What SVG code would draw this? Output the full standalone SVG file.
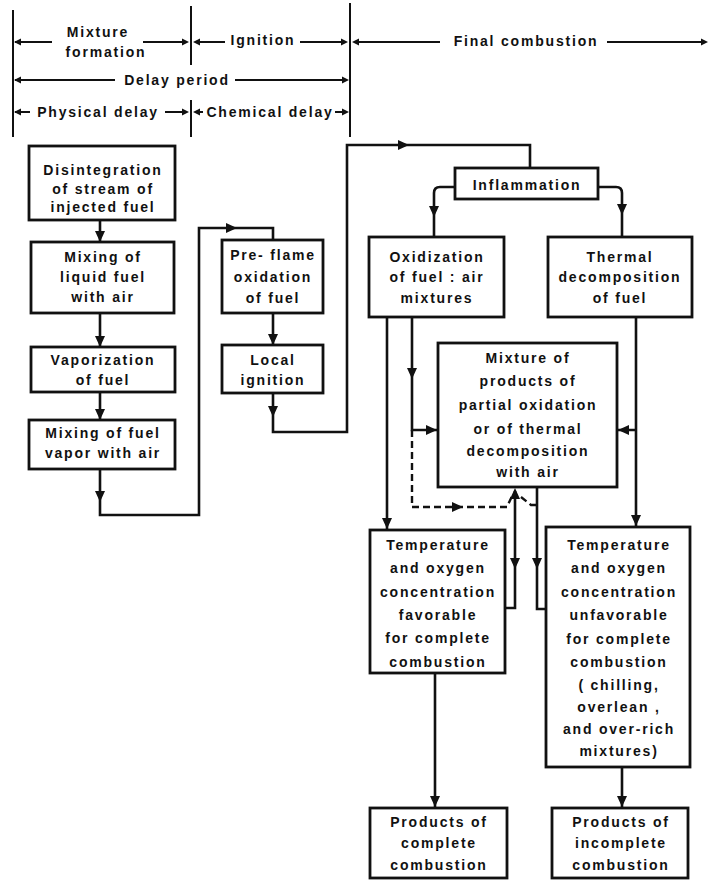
<svg xmlns="http://www.w3.org/2000/svg" xmlns:xlink="http://www.w3.org/1999/xlink" width="714" height="880" viewBox="0 0 714 880">
<style>
  .bx{fill:#fff;stroke:#111;stroke-width:2.8}
  .t{font-family:"Liberation Sans",Arial,sans-serif;font-weight:bold;font-size:14px;letter-spacing:1.8px;fill:#111;text-anchor:middle}
  .ln{fill:none;stroke:#111;stroke-width:2.6}
  .hl{fill:none;stroke:#111;stroke-width:2}
  .ds{fill:none;stroke:#111;stroke-width:2.4;stroke-dasharray:7 4}
  .ah{fill:#111}
</style>
<defs>
  <path id="ah" d="M0,0 L-11,-5 L-11,5 Z"/>
  <path id="hs" d="M0,0 L-7,-3.5 L-7,3.5 Z"/>
</defs>
<rect width="714" height="880" fill="#fff"/>

<g id="header">
  <path class="hl" d="M13 10 V137 M191 6 V65 M191 100 V137 M350 3 V137"/>
  <path class="hl" d="M15 42 H52 M143 42 H187 M195 42 H225 M300 42 H346 M354 42 H440 M607 42 H706"/>
  <path class="hl" d="M15 80 H115 M235 80 H347"/>
  <path class="hl" d="M15 112 H30 M165 112 H187 M195 112 H203 M335 112 H347"/>
  <g class="ah">
    <use xlink:href="#hs" transform="translate(14,42) rotate(180)"/>
    <use xlink:href="#hs" transform="translate(189,42)"/>
    <use xlink:href="#hs" transform="translate(193,42) rotate(180)"/>
    <use xlink:href="#hs" transform="translate(348,42)"/>
    <use xlink:href="#hs" transform="translate(352,42) rotate(180)"/>
    <use xlink:href="#hs" transform="translate(708,42)"/>
    <use xlink:href="#hs" transform="translate(14,80) rotate(180)"/>
    <use xlink:href="#hs" transform="translate(349,80)"/>
    <use xlink:href="#hs" transform="translate(14,112) rotate(180)"/>
    <use xlink:href="#hs" transform="translate(189,112)"/>
    <use xlink:href="#hs" transform="translate(193,112) rotate(180)"/>
    <use xlink:href="#hs" transform="translate(349,112)"/>
  </g>
  <text class="t" x="98" y="37">Mixture</text>
  <text class="t" x="106" y="57">formation</text>
  <text class="t" x="263" y="45">Ignition</text>
  <text class="t" x="526" y="46">Final combustion</text>
  <text class="t" x="177" y="85">Delay period</text>
  <text class="t" x="98" y="117">Physical delay</text>
  <text class="t" x="270" y="117">Chemical delay</text>
</g>

<g id="connectors">
  <path class="ln" d="M100 220 V242 M100 313 V347 M100 392 V420"/>
  <path class="ln" d="M100 469 V515 H199 V228 H273 V240"/>
  <path class="ln" d="M273 313 V345"/>
  <path class="ln" d="M273 393 V432 H347 V145 H530 V168"/>
  <path class="ln" d="M455 187 H440 Q434 187 434 193 V237 M598 187 H616 Q622 187 622 193 V237"/>
  <path class="ln" d="M387 317 V529"/>
  <path class="ln" d="M412 317 V430 H437"/>
  <path class="ln" d="M636 317 V526 M636 430 H618"/>
  <path class="ds" d="M412 430 V507 H507 L513 494"/>
  <path class="ds" d="M521 497 L531 505 H537"/>
  <path class="ln" d="M515 491 V608 H505"/>
  <path class="ln" d="M537 487 V609 H547"/>
  <path class="ln" d="M435 673 V807 M622 767 V807"/>
  <g class="ah">
    <use xlink:href="#ah" transform="translate(100,242) rotate(90)"/>
    <use xlink:href="#ah" transform="translate(100,347) rotate(90)"/>
    <use xlink:href="#ah" transform="translate(100,420) rotate(90)"/>
    <use xlink:href="#ah" transform="translate(100,502) rotate(90)"/>
    <use xlink:href="#ah" transform="translate(237,228)"/>
    <use xlink:href="#ah" transform="translate(273,345) rotate(90)"/>
    <use xlink:href="#ah" transform="translate(273,417) rotate(90)"/>
    <use xlink:href="#ah" transform="translate(409,145)"/>
    <use xlink:href="#ah" transform="translate(434,217) rotate(90)"/>
    <use xlink:href="#ah" transform="translate(622,215) rotate(90)"/>
    <use xlink:href="#ah" transform="translate(387,529) rotate(90)"/>
    <use xlink:href="#ah" transform="translate(412,379) rotate(90)"/>
    <use xlink:href="#ah" transform="translate(437,430)"/>
    <use xlink:href="#ah" transform="translate(618,430) rotate(180)"/>
    <use xlink:href="#ah" transform="translate(636,526) rotate(90)"/>
    <use xlink:href="#ah" transform="translate(463,507)"/>
    <use xlink:href="#ah" transform="translate(515,488) rotate(-90)"/>
    <use xlink:href="#ah" transform="translate(515,569) rotate(90)"/>
    <use xlink:href="#ah" transform="translate(537,569) rotate(90)"/>
    <use xlink:href="#ah" transform="translate(435,807) rotate(90)"/>
    <use xlink:href="#ah" transform="translate(622,807) rotate(90)"/>
  </g>
</g>

<g id="disintegration">
  <rect class="bx" x="29" y="146" width="146" height="74"/>
  <text class="t" x="103" y="175">Disintegration</text>
  <text class="t" x="103" y="194">of stream of</text>
  <text class="t" x="103" y="212">injected fuel</text>
</g>
<g id="mixing-liquid">
  <rect class="bx" x="31" y="242" width="143" height="71"/>
  <text class="t" x="103" y="262">Mixing of</text>
  <text class="t" x="103" y="282">liquid fuel</text>
  <text class="t" x="103" y="302">with air</text>
</g>
<g id="vaporization">
  <rect class="bx" x="31" y="347" width="144" height="45"/>
  <text class="t" x="103" y="365">Vaporization</text>
  <text class="t" x="103" y="385">of fuel</text>
</g>
<g id="mixing-vapor">
  <rect class="bx" x="29" y="420" width="146" height="49"/>
  <text class="t" x="103" y="438">Mixing of fuel</text>
  <text class="t" x="103" y="458">vapor with air</text>
</g>
<g id="preflame">
  <rect class="bx" x="222" y="240" width="101" height="73"/>
  <text class="t" x="273" y="260">Pre- flame</text>
  <text class="t" x="273" y="282">oxidation</text>
  <text class="t" x="273" y="303">of fuel</text>
</g>
<g id="local-ignition">
  <rect class="bx" x="222" y="345" width="101" height="48"/>
  <text class="t" x="273" y="365">Local</text>
  <text class="t" x="273" y="385">ignition</text>
</g>
<g id="inflammation">
  <rect class="bx" x="455" y="168" width="143" height="31"/>
  <text class="t" x="527" y="190">Inflammation</text>
</g>
<g id="oxidization">
  <rect class="bx" x="369" y="237" width="135" height="80"/>
  <text class="t" x="437" y="262">Oxidization</text>
  <text class="t" x="437" y="282">of fuel : air</text>
  <text class="t" x="437" y="303">mixtures</text>
</g>
<g id="thermal">
  <rect class="bx" x="548" y="237" width="144" height="80"/>
  <text class="t" x="620" y="262">Thermal</text>
  <text class="t" x="620" y="282">decomposition</text>
  <text class="t" x="620" y="303">of fuel</text>
</g>
<g id="mixture-products">
  <rect class="bx" x="438" y="343" width="179" height="144"/>
  <text class="t" x="528" y="363">Mixture of</text>
  <text class="t" x="528" y="386">products of</text>
  <text class="t" x="528" y="410">partial oxidation</text>
  <text class="t" x="528" y="434">or of thermal</text>
  <text class="t" x="528" y="456">decomposition</text>
  <text class="t" x="528" y="477">with air</text>
</g>
<g id="favorable">
  <rect class="bx" x="370" y="530" width="135" height="143"/>
  <text class="t" x="438" y="550">Temperature</text>
  <text class="t" x="438" y="573">and oxygen</text>
  <text class="t" x="438" y="597">concentration</text>
  <text class="t" x="438" y="620">favorable</text>
  <text class="t" x="438" y="643">for complete</text>
  <text class="t" x="438" y="667">combustion</text>
</g>
<g id="unfavorable">
  <rect class="bx" x="546" y="527" width="144" height="240"/>
  <text class="t" x="619" y="550">Temperature</text>
  <text class="t" x="619" y="573">and oxygen</text>
  <text class="t" x="619" y="597">concentration</text>
  <text class="t" x="619" y="620">unfavorable</text>
  <text class="t" x="619" y="644">for complete</text>
  <text class="t" x="619" y="667">combustion</text>
  <text class="t" x="619" y="690">( chilling,</text>
  <text class="t" x="619" y="712">overlean ,</text>
  <text class="t" x="619" y="734">and over-rich</text>
  <text class="t" x="619" y="756">mixtures)</text>
</g>
<g id="complete-products">
  <rect class="bx" x="370" y="808" width="137" height="70"/>
  <text class="t" x="439" y="827">Products of</text>
  <text class="t" x="439" y="848">complete</text>
  <text class="t" x="439" y="870">combustion</text>
</g>
<g id="incomplete-products">
  <rect class="bx" x="552" y="808" width="136" height="70"/>
  <text class="t" x="621" y="827">Products of</text>
  <text class="t" x="621" y="848">incomplete</text>
  <text class="t" x="621" y="870">combustion</text>
</g>
</svg>
